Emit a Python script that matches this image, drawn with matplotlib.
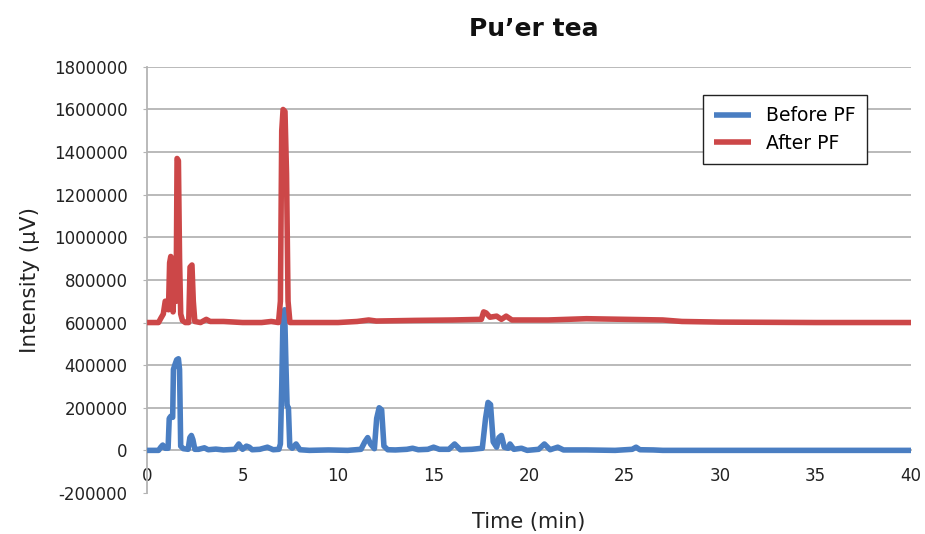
import matplotlib
matplotlib.use("Agg")
import matplotlib.pyplot as plt

# ---- data ----
before_t = [0.0, 0.6, 0.72, 0.82, 0.95, 1.1, 1.16, 1.24, 1.34, 1.38, 1.45, 1.55, 1.64, 1.7, 1.76, 1.9,
            2.15, 2.24, 2.32, 2.4, 2.5, 2.7, 3.0, 3.2, 3.6, 4.0, 4.6, 4.8, 5.0, 5.2, 5.35, 5.5, 5.9, 6.3,
            6.6, 6.9, 6.98, 7.05, 7.12, 7.2, 7.27, 7.33, 7.4, 7.47, 7.6, 7.8, 8.0, 8.5, 9.5, 10.5, 11.2,
            11.4, 11.55, 11.7, 11.9, 12.02, 12.15, 12.28, 12.4, 12.6, 13.0, 13.6, 13.9, 14.2, 14.7, 15.0,
            15.3, 15.8, 16.1, 16.4, 17.0, 17.55, 17.72, 17.85, 17.98, 18.12, 18.3, 18.42, 18.55, 18.7, 18.9,
            19.0, 19.2, 19.6, 19.9, 20.5, 20.8, 21.1, 21.5, 21.8, 23.0, 24.5, 25.4, 25.6, 25.8, 26.5, 27.0,
            30.0, 35.0, 40.0]
before_v = [0, 0, 15000, 25000, 10000, 10000, 150000, 160000, 155000, 380000, 400000, 425000, 430000,
            380000, 20000, 8000, 5000, 60000, 70000, 50000, 5000, 5000, 12000, 3000, 6000, 2000, 5000, 30000,
            5000, 20000, 15000, 3000, 5000, 15000, 3000, 5000, 30000, 300000, 640000, 660000, 400000, 210000,
            200000, 20000, 10000, 30000, 3000, 0, 2000, 0, 5000, 40000, 60000, 30000, 8000, 150000, 200000,
            190000, 20000, 3000, 2000, 5000, 10000, 3000, 5000, 15000, 5000, 5000, 30000, 3000, 5000, 10000,
            150000, 225000, 215000, 40000, 15000, 60000, 70000, 15000, 10000, 30000, 5000, 10000, 0, 5000,
            30000, 3000, 15000, 2000, 2000, 0, 5000, 15000, 3000, 2000, 0, 0, 0, 0]

after_t = [0.0, 0.6, 0.72, 0.85, 0.95, 1.05, 1.12, 1.18, 1.24, 1.3, 1.36, 1.42, 1.48, 1.52, 1.57, 1.64,
           1.7, 1.76, 1.85, 2.0, 2.18, 2.25, 2.35, 2.42, 2.5, 2.8, 3.1, 3.3, 4.0, 5.0, 6.0, 6.5, 6.88, 6.98,
           7.05, 7.12, 7.22, 7.3, 7.38, 7.48, 8.5, 10.0, 11.0, 11.6, 12.0, 14.0, 16.0, 17.5, 17.62, 17.75,
           17.95, 18.3, 18.55, 18.8, 19.1, 21.0, 23.0, 25.0, 27.0, 28.0, 30.0, 35.0, 40.0]
after_v = [600000, 600000, 620000, 640000, 700000, 700000, 660000, 880000, 910000, 900000, 650000, 800000,
           780000, 700000, 1370000, 1360000, 900000, 640000, 610000, 600000, 600000, 860000, 870000, 700000,
           605000, 600000, 615000, 605000, 605000, 600000, 600000, 605000, 600000, 700000, 1500000, 1600000,
           1590000, 1300000, 700000, 600000, 600000, 600000, 605000, 612000, 607000, 610000, 612000, 615000,
           650000, 645000, 625000, 630000, 615000, 630000, 612000, 612000, 618000, 615000, 612000, 605000,
           602000, 600000, 600000]

x_ticks = [0, 5, 10, 15, 20, 25, 30, 35, 40]
y_ticks = [-200000, 0, 200000, 400000, 600000, 800000, 1000000, 1200000, 1400000, 1600000, 1800000]
series_names = ["Before PF", "After PF"]
title = "Pu\u2019er tea"

BLUE = "#4A7EC2"
RED = "#CC4748"
GRID = "#B4B4B4"

fig = plt.figure(figsize=(9.25, 5.34), dpi=100)
ax = fig.add_axes([0.159, 0.0768, 0.826, 0.798])

ax.set_xlim(0, 40)
ax.set_ylim(-200000, 1800000)

ax.plot(before_t, before_v, color=BLUE, lw=4, solid_joinstyle="round", solid_capstyle="butt",
        label=series_names[0], zorder=3)
ax.plot(after_t, after_v, color=RED, lw=4, solid_joinstyle="round", solid_capstyle="butt",
        label=series_names[1], zorder=4)

ax.set_yticks(y_ticks)
ax.set_yticklabels([str(v) for v in y_ticks])
ax.set_xticks(x_ticks)
ax.set_xticklabels([str(v) for v in x_ticks])

for v in y_ticks:
    if v > 0:
        ax.axhline(v, color=GRID, lw=1.3, zorder=1)

for s in ["top", "right"]:
    ax.spines[s].set_visible(False)
ax.spines["left"].set_color(GRID)
ax.spines["left"].set_linewidth(1.3)
ax.spines["bottom"].set_position(("data", 0))
ax.spines["bottom"].set_color(GRID)
ax.spines["bottom"].set_linewidth(1.3)

ax.tick_params(axis="y", length=3, color=GRID, pad=11, labelsize=12, labelcolor="#222222")
ax.tick_params(axis="x", length=0, pad=12, labelsize=12, labelcolor="#222222")

ax.set_xlabel("Time (min)", fontsize=15, color="#222222")
ax.xaxis.set_label_coords(0.5, -0.044)
ax.set_ylabel("Intensity (\u00b5V)", fontsize=15.5, color="#222222")
ax.yaxis.set_label_coords(-0.140, 0.5)

fig.text(0.577, 0.945, title, fontsize=18, fontweight="bold", ha="center", va="center", color="#111111")

leg = ax.legend(loc="upper left", bbox_to_anchor=(0.715, 0.956), fontsize=13.5, frameon=True,
                fancybox=False, edgecolor="#222222", framealpha=1, handlelength=2.0,
                borderpad=0.6, labelspacing=0.45)
leg.get_frame().set_linewidth(1.0)

fig.savefig("out.png", dpi=100)
